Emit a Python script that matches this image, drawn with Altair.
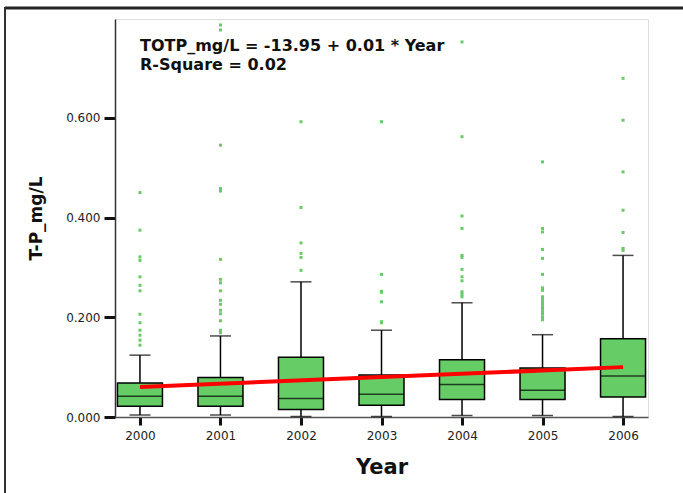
import altair as alt
import pandas as pd

years = ["2000", "2001", "2002", "2003", "2004", "2005", "2006"]
whisk_lo = [0.004, 0.004, 0.001, 0.001, 0.003, 0.003, 0.001]
q1 = [0.0215, 0.0215, 0.015, 0.0235, 0.035, 0.035, 0.040]
median = [0.0415, 0.0415, 0.037, 0.0455, 0.065, 0.0535, 0.082]
q3 = [0.068, 0.079, 0.120, 0.084, 0.115, 0.098, 0.157]
whisk_hi = [0.124, 0.1625, 0.271, 0.174, 0.229, 0.165, 0.324]

outliers = {
    "2000": [0.450, 0.3745, 0.321, 0.314, 0.281, 0.264, 0.253, 0.206, 0.189, 0.174, 0.164, 0.154, 0.144],
    "2001": [0.786, 0.776, 0.545, 0.458, 0.453, 0.316, 0.276, 0.269, 0.253, 0.234, 0.226, 0.214, 0.207, 0.193, 0.174, 0.169],
    "2002": [0.592, 0.420, 0.349, 0.328, 0.320, 0.294],
    "2003": [0.592, 0.286, 0.252, 0.250, 0.231, 0.191, 0.189],
    "2004": [0.752, 0.562, 0.403, 0.378, 0.324, 0.320, 0.296, 0.281, 0.273, 0.251, 0.246, 0.241],
    "2005": [0.5115, 0.378, 0.371, 0.336, 0.318, 0.286, 0.259, 0.254, 0.241, 0.236, 0.231, 0.226,
             0.221, 0.216, 0.211, 0.206, 0.200, 0.195],
    "2006": [0.679, 0.595, 0.4915, 0.4146, 0.370, 0.338, 0.334],
}

fit_years = ["2000", "2006"]
fit_vals = [0.060, 0.100]

eq_line1 = "TOTP_mg/L = -13.95 + 0.01 * Year"
eq_line2 = "R-Square = 0.02"

box_df = pd.DataFrame({"Year": years, "lo": whisk_lo, "q1": q1, "med": median, "q3": q3, "hi": whisk_hi})
out_df = pd.DataFrame([{"Year": y, "v": v} for y, vals in outliers.items() for v in vals])
fit_df = pd.DataFrame({"Year": fit_years, "v": fit_vals})

GREEN = "#66cc66"
FONT = "DejaVu Sans"

xscale = alt.Scale(type="point", domain=years, padding=0.31)
yscale = alt.Scale(domain=[0, 0.798], nice=False, zero=False)

x_enc = alt.X("Year:O", scale=xscale, sort=years,
              axis=alt.Axis(title="Year", labelAngle=0, labelFont=FONT, labelFontSize=12,
                            labelColor="#222", tickColor="#111", tickWidth=3, tickSize=8,
                            labelPadding=5, domain=True, domainColor="#555", domainWidth=1.5,
                            titleFont=FONT, titleFontSize=21, titleFontWeight="bold",
                            titleColor="#111", titlePadding=15))
y_axis = alt.Axis(title="T-P_mg/L", values=[0, 0.2, 0.4, 0.6], format=".3f",
                  labelFont=FONT, labelFontSize=12, labelColor="#222",
                  tickColor="#111", tickWidth=3, tickSize=11, labelPadding=4,
                  domain=True, domainColor="#333", domainWidth=1.5, grid=False,
                  titleFont=FONT, titleFontSize=17, titleFontWeight="bold",
                  titleColor="#111", titlePadding=20)

base = alt.Chart(box_df)

whisker = base.mark_rule(color="black", strokeWidth=1.5).encode(
    x=x_enc, y=alt.Y("lo:Q", scale=yscale, axis=y_axis), y2="hi:Q")
cap_lo = base.mark_tick(color="black", size=21, thickness=1.5).encode(x=x_enc, y=alt.Y("lo:Q", scale=yscale))
cap_hi = base.mark_tick(color="black", size=21, thickness=1.5).encode(x=x_enc, y=alt.Y("hi:Q", scale=yscale))
box = base.mark_bar(size=45, color=GREEN, stroke="black", strokeWidth=1.5).encode(
    x=x_enc, y=alt.Y("q1:Q", scale=yscale), y2="q3:Q")
med = base.mark_tick(color="black", size=45, thickness=1.5).encode(x=x_enc, y=alt.Y("med:Q", scale=yscale))

pts = alt.Chart(out_df).mark_square(size=9, color=GREEN, opacity=1).encode(
    x=x_enc, y=alt.Y("v:Q", scale=yscale))

fit = alt.Chart(fit_df).mark_line(color="#ff0000", strokeWidth=4).encode(
    x=x_enc, y=alt.Y("v:Q", scale=yscale))

one = pd.DataFrame({"a": [0]})
t1 = alt.Chart(one).mark_text(text=eq_line1, font=FONT, fontSize=16, fontWeight="bold",
                              align="left", baseline="alphabetic", color="#111").encode(
    x=alt.value(25), y=alt.value(32))
t2 = alt.Chart(one).mark_text(text=eq_line2, font=FONT, fontSize=16, fontWeight="bold",
                              align="left", baseline="alphabetic", color="#111").encode(
    x=alt.value(25), y=alt.value(51))

border_top = alt.Chart(one).mark_rule(color="#222", strokeWidth=3).encode(
    x=alt.value(-110), x2=alt.value(570), y=alt.value(-11))
border_left = alt.Chart(one).mark_rule(color="#333", strokeWidth=2).encode(
    x=alt.value(-110), y=alt.value(-12), y2=alt.value(476))

chart = alt.layer(whisker, cap_lo, cap_hi, box, med, pts, fit, t1, t2, border_top, border_left).properties(
    width=533, height=398, autosize="none",
    padding={"left": 115, "top": 19, "right": 35, "bottom": 76},
).configure_view(stroke="#666", strokeWidth=2).configure(background="white")

chart.save("out.html", embed_options={"renderer": "svg", "actions": False})
